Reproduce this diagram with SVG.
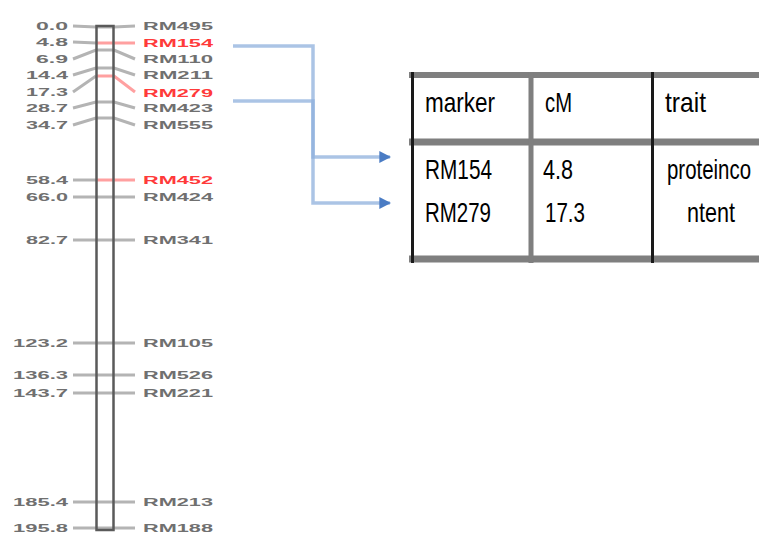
<svg xmlns="http://www.w3.org/2000/svg" width="759" height="535" viewBox="0 0 759 535">
<defs>
<style>
.lv{font-family:"Liberation Sans",Arial,sans-serif;font-size:10px;fill:#707070;text-anchor:end;font-weight:bold}
.nm{font-family:"Liberation Sans",Arial,sans-serif;font-size:10px;fill:#707070;font-weight:bold}
.red{fill:#ff3a3a}
.tk{fill:none;stroke:#b4b4b4;stroke-width:3}
.tkr{fill:none;stroke:#ffa0a0;stroke-width:3}
.tt{font-family:"Liberation Sans",Arial,sans-serif;font-size:28px;fill:#000}
.conn{fill:none;stroke:#8fb0dc;stroke-width:3.5;stroke-opacity:0.75}
</style>
<marker id="ah" viewBox="0 0 10 10" refX="9" refY="5" markerWidth="3.4" markerHeight="3.4" orient="auto">
<path d="M0,0 L10,5 L0,10 z" fill="#4a7cc4"/>
</marker>
</defs>
<rect width="759" height="535" fill="#fff"/>

<g id="chromosome">
<g id="ticks">
<path class="tk" d="M73,26 L96,27 L114,27 L135,26"/>
<path class="tk" d="M73,42 L96,43"/>
<path class="tkr" d="M96,43 L135,43"/>
<path class="tk" d="M73,59 L96,50 L114,50 L135,59"/>
<path class="tk" d="M73,75 L96,68 L114,68 L135,75"/>
<path class="tk" d="M73,92 L96,76"/>
<path class="tkr" d="M96,76 L114,76 L135,92"/>
<path class="tk" d="M73,108 L96,102 L114,102 L135,108"/>
<path class="tk" d="M73,125 L96,118 L114,118 L135,125"/>
<path class="tk" d="M73,180 L96,180"/>
<path class="tkr" d="M96,180 L135,180"/>
<path class="tk" d="M73,197 L135,197"/>
<path class="tk" d="M73,240 L135,240"/>
<path class="tk" d="M73,343 L135,343"/>
<path class="tk" d="M73,375 L135,375"/>
<path class="tk" d="M73,393 L135,393"/>
<path class="tk" d="M73,502 L135,502"/>
<path class="tk" d="M73,528 L135,528"/>
</g>
<rect x="96.5" y="26" width="17" height="504" fill="none" stroke="#5a5a5a" stroke-width="2.5"/>
</g>

<g id="labels-left">
<text class="lv" x="68" y="29.5" textLength="32" lengthAdjust="spacingAndGlyphs">0.0</text>
<text class="lv" x="68" y="45.5" textLength="32" lengthAdjust="spacingAndGlyphs">4.8</text>
<text class="lv" x="68" y="62.5" textLength="32" lengthAdjust="spacingAndGlyphs">6.9</text>
<text class="lv" x="68" y="78.5" textLength="42" lengthAdjust="spacingAndGlyphs">14.4</text>
<text class="lv" x="68" y="95.5" textLength="42" lengthAdjust="spacingAndGlyphs">17.3</text>
<text class="lv" x="68" y="111.5" textLength="42" lengthAdjust="spacingAndGlyphs">28.7</text>
<text class="lv" x="68" y="128.5" textLength="42" lengthAdjust="spacingAndGlyphs">34.7</text>
<text class="lv" x="68" y="183.5" textLength="42" lengthAdjust="spacingAndGlyphs">58.4</text>
<text class="lv" x="68" y="200.5" textLength="42" lengthAdjust="spacingAndGlyphs">66.0</text>
<text class="lv" x="68" y="243.5" textLength="42" lengthAdjust="spacingAndGlyphs">82.7</text>
<text class="lv" x="68" y="346.5" textLength="55" lengthAdjust="spacingAndGlyphs">123.2</text>
<text class="lv" x="68" y="378.5" textLength="55" lengthAdjust="spacingAndGlyphs">136.3</text>
<text class="lv" x="68" y="396.5" textLength="55" lengthAdjust="spacingAndGlyphs">143.7</text>
<text class="lv" x="68" y="505.5" textLength="55" lengthAdjust="spacingAndGlyphs">185.4</text>
<text class="lv" x="68" y="531.5" textLength="55" lengthAdjust="spacingAndGlyphs">195.8</text>
</g>

<g id="labels-right">
<text class="nm" x="143" y="29.5" textLength="70" lengthAdjust="spacingAndGlyphs">RM495</text>
<text class="nm red" x="143" y="46.5" textLength="70" lengthAdjust="spacingAndGlyphs">RM154</text>
<text class="nm" x="143" y="62.5" textLength="70" lengthAdjust="spacingAndGlyphs">RM110</text>
<text class="nm" x="143" y="78.5" textLength="70" lengthAdjust="spacingAndGlyphs">RM211</text>
<text class="nm red" x="143" y="96.5" textLength="70" lengthAdjust="spacingAndGlyphs">RM279</text>
<text class="nm" x="143" y="111.5" textLength="70" lengthAdjust="spacingAndGlyphs">RM423</text>
<text class="nm" x="143" y="128.5" textLength="70" lengthAdjust="spacingAndGlyphs">RM555</text>
<text class="nm red" x="143" y="183.5" textLength="70" lengthAdjust="spacingAndGlyphs">RM452</text>
<text class="nm" x="143" y="200.5" textLength="70" lengthAdjust="spacingAndGlyphs">RM424</text>
<text class="nm" x="143" y="243.5" textLength="70" lengthAdjust="spacingAndGlyphs">RM341</text>
<text class="nm" x="143" y="346.5" textLength="70" lengthAdjust="spacingAndGlyphs">RM105</text>
<text class="nm" x="143" y="378.5" textLength="70" lengthAdjust="spacingAndGlyphs">RM526</text>
<text class="nm" x="143" y="396.5" textLength="70" lengthAdjust="spacingAndGlyphs">RM221</text>
<text class="nm" x="143" y="505.5" textLength="70" lengthAdjust="spacingAndGlyphs">RM213</text>
<text class="nm" x="143" y="531.5" textLength="70" lengthAdjust="spacingAndGlyphs">RM188</text>
</g>

<g id="connectors">
<path class="conn" d="M233,46 L313,46 L313,157 L390,157" marker-end="url(#ah)"/>
<path class="conn" d="M233,101 L313,101 L313,203 L390,203" marker-end="url(#ah)"/>
</g>

<g id="table">
<g stroke="#7f7f7f" fill="none">
<line x1="409" y1="75" x2="759" y2="75" stroke-width="6"/>
<line x1="409" y1="142" x2="759" y2="142" stroke-width="7"/>
<line x1="409" y1="259" x2="759" y2="259" stroke-width="7"/>
<line x1="531" y1="72" x2="531" y2="263" stroke-width="5"/>
</g>
<line x1="412.5" y1="72" x2="412.5" y2="263" stroke="#1a1a1a" stroke-width="3"/>
<line x1="652.5" y1="72" x2="652.5" y2="263" stroke="#1a1a1a" stroke-width="3"/>
<text class="tt" x="425" y="112" textLength="70" lengthAdjust="spacingAndGlyphs">marker</text>
<text class="tt" x="545" y="112" textLength="27" lengthAdjust="spacingAndGlyphs">cM</text>
<text class="tt" x="665" y="112" textLength="41" lengthAdjust="spacingAndGlyphs">trait</text>
<text class="tt" x="425" y="179" textLength="67" lengthAdjust="spacingAndGlyphs">RM154</text>
<text class="tt" x="425" y="222" textLength="66" lengthAdjust="spacingAndGlyphs">RM279</text>
<text class="tt" x="543" y="179" textLength="30" lengthAdjust="spacingAndGlyphs">4.8</text>
<text class="tt" x="545" y="222" textLength="40" lengthAdjust="spacingAndGlyphs">17.3</text>
<text class="tt" x="667" y="179" textLength="84" lengthAdjust="spacingAndGlyphs">proteinco</text>
<text class="tt" x="687" y="222" textLength="48" lengthAdjust="spacingAndGlyphs">ntent</text>
</g>
</svg>
